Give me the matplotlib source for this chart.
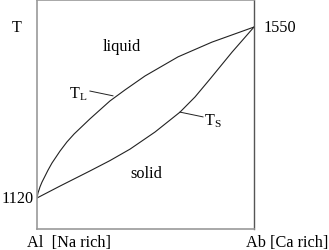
import matplotlib
matplotlib.use("Agg")
import matplotlib.pyplot as plt

# phase diagram, plagioclase
liq_x = [0, 0.46, 0.92, 1.38, 2.30, 3.69, 5.07, 6.91, 8.76, 10.6, 13.8, 17.1,
         24.4, 33.6, 40.6, 49.8, 65.0, 80.6, 100]
liq_t = [1120, 1133, 1140, 1148, 1160, 1175, 1190, 1208, 1223, 1238, 1261, 1281,
         1319, 1364, 1392, 1427, 1475, 1512, 1550]
sol_x = [0, 10.6, 24.4, 33.6, 42.9, 54.4, 65.9, 72.8, 79.7, 89.9, 100]
sol_t = [1120, 1150, 1188, 1214, 1243, 1286, 1336, 1374, 1419, 1487, 1550]
t_low, t_high = 1120, 1550

plt.rcParams['font.family'] = ['Liberation Serif', 'DejaVu Serif']
plt.rcParams['mathtext.fontset'] = 'custom'
plt.rcParams['mathtext.rm'] = 'Liberation Serif'
plt.rcParams['mathtext.it'] = 'Liberation Serif'

fig = plt.figure(figsize=(3.29, 2.51), dpi=100)
ax = fig.add_axes([37 / 329, 21 / 251, 217 / 329, 229 / 251])

ax.plot(liq_x, liq_t, color='#222222', lw=0.8)
ax.plot(sol_x, sol_t, color='#222222', lw=0.8)

ax.set_xlim(0, 100)
ax.set_ylim(1042, 1618)
ax.set_xticks([])
ax.set_yticks([])
for side in ['left', 'bottom', 'top']:
    ax.spines[side].set_color('#999999')
    ax.spines[side].set_linewidth(1.2)
ax.spines['right'].set_color('#555555')
ax.spines['right'].set_linewidth(1.0)

fs = 11.7
ax.text(39.2, 1502, 'liquid', fontsize=fs, ha='center', va='center')
ax.text(50.2, 1183, 'solid', fontsize=fs, ha='center', va='center')
ax.text(18.9, 1384, r'$\mathrm{T}_\mathrm{L}$', fontsize=fs, ha='center', va='center')
ax.text(81.1, 1316, r'$\mathrm{T}_\mathrm{S}$', fontsize=fs, ha='center', va='center')
ax.plot([24.4, 35.0], [1389, 1377], color='#222222', lw=0.7)
ax.plot([65.9, 76.5], [1336, 1324], color='#222222', lw=0.7)

tr = ax.get_yaxis_transform()
ax.text(-0.092, 0.882, 'T', fontsize=fs, ha='center', va='center', transform=ax.transAxes)
ax.text(-0.014, t_low, '1120', fontsize=fs, ha='right', va='center', transform=tr)
ax.text(1.046, t_high, '1550', fontsize=fs, ha='left', va='center', transform=tr)
ax.text(-0.046, -0.057, 'Al  [Na rich]', fontsize=fs, ha='left', va='center', transform=ax.transAxes)
ax.text(1.341, -0.057, 'Ab [Ca rich]', fontsize=fs, ha='right', va='center', transform=ax.transAxes)

fig.savefig('out.png', dpi=100)
